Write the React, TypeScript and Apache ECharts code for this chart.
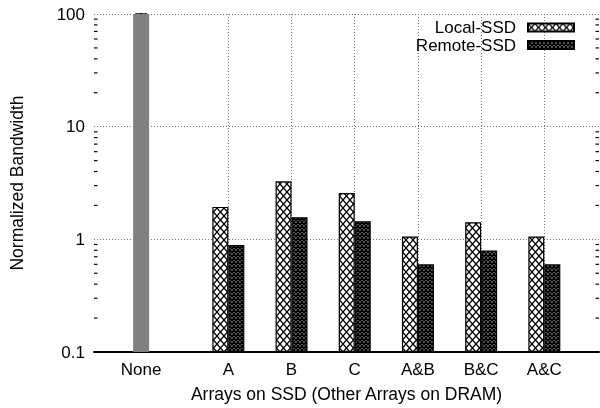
import React, { useEffect, useRef } from 'react';
import * as echarts from 'echarts';

// ---- data ----
const categories = ['None', 'A', 'B', 'C', 'A&B', 'B&C', 'A&C'];
// position of each category on the x value axis (None stands a little apart)
const categoryX = [0, 1.38, 2.38, 3.38, 4.38, 5.38, 6.38];
const baselineDRAM: (number | null)[] = [100, null, null, null, null, null, null];
const localSSD: (number | null)[] = [null, 1.94, 3.27, 2.58, 1.06, 1.42, 1.06];
const remoteSSD: (number | null)[] = [null, 0.89, 1.57, 1.45, 0.6, 0.795, 0.6];
const seriesNames = ['Local-SSD', 'Remote-SSD'];
const yMajorTicks = [0.1, 1, 10, 100];
const yMinorTicks = [
  0.2, 0.3, 0.4, 0.5, 0.6, 0.7, 0.8, 0.9,
  2, 3, 4, 5, 6, 7, 8, 9,
  20, 30, 40, 50, 60, 70, 80, 90,
];

const FONT = '"Liberation Sans", Arial, Helvetica, sans-serif';

function makePattern(w: number, h: number, lw: number) {
  const c = document.createElement('canvas');
  c.width = w;
  c.height = h;
  const ctx = c.getContext('2d')!;
  ctx.fillStyle = '#fff';
  ctx.fillRect(0, 0, w, h);
  ctx.strokeStyle = '#000';
  ctx.lineWidth = lw;
  for (let dx = -1; dx <= 1; dx++) {
    for (let dy = -1; dy <= 1; dy++) {
      const ox = dx * w;
      const oy = dy * h;
      ctx.beginPath();
      ctx.moveTo(ox, oy);
      ctx.lineTo(ox + w, oy + h);
      ctx.moveTo(ox + w, oy);
      ctx.lineTo(ox, oy + h);
      ctx.stroke();
    }
  }
  return { image: c, repeat: 'repeat', imageWidth: w, imageHeight: h } as any;
}

export default function App() {
  const ref = useRef<HTMLDivElement>(null);

  useEffect(() => {
    if (!ref.current) return;
    const chart = echarts.init(ref.current, undefined, { renderer: 'svg' });
    const localPattern = makePattern(7, 8, 1.3);
    const remotePattern = makePattern(4, 4, 1.6);

    const xMin = -0.7457;
    const xMax = 7.245;

    const pairs = (vals: (number | null)[]) =>
      vals
        .map((v, i) => (v == null ? null : [categoryX[i], v]))
        .filter((d) => d !== null) as number[][];

    const labelFor = (v: number) => {
      const i = categoryX.findIndex((x) => Math.abs(x - v) < 1e-6);
      return i >= 0 ? categories[i] : '';
    };

    const legendBase = {
      orient: 'vertical',
      right: 25,
      padding: 0,
      align: 'right',
      itemWidth: 46,
      itemHeight: 8,
      icon: 'rect',
      textStyle: { fontSize: 17, color: '#000', fontFamily: FONT, padding: [0, 7, 0, 0] },
    };

    const option: any = {
      animation: false,
      textStyle: { fontFamily: FONT },
      grid: { left: 90, right: 1, top: 14, bottom: 54, containLabel: false },
      legend: [
        { ...legendBase, data: [seriesNames[0]], top: 19 },
        { ...legendBase, data: [seriesNames[1]], top: 36.5 },
      ],
      xAxis: [
        {
          type: 'value',
          min: xMin,
          max: xMax,
          name: 'Arrays on SSD (Other Arrays on DRAM)',
          nameLocation: 'middle',
          nameGap: 33,
          nameTextStyle: { fontSize: 17.5, color: '#000', fontFamily: FONT },
          axisLine: { show: true, onZero: false, lineStyle: { color: '#000', width: 2 } },
          axisTick: { show: false, customValues: categoryX },
          axisLabel: {
            customValues: categoryX,
            formatter: (v: number) => labelFor(v),
            fontSize: 17,
            color: '#000',
            margin: 9,
            fontFamily: FONT,
          },
          splitLine: { show: true, lineStyle: { color: '#777', type: [1, 2], width: 1 } },
        },
        {
          type: 'value',
          min: xMin,
          max: xMax,
          show: false,
          splitLine: { show: false },
        },
      ],
      yAxis: [
        {
          type: 'log',
          logBase: 10,
          min: 0.1,
          max: 100,
          startValue: 0.1,
          name: 'Normalized Bandwidth',
          nameLocation: 'middle',
          nameRotate: 90,
          nameGap: 68,
          nameTextStyle: { fontSize: 17.5, color: '#000', fontFamily: FONT },
          axisLine: { show: true, lineStyle: { color: '#000', width: 2 } },
          axisTick: { show: true, inside: true, length: 6, lineStyle: { color: '#000', width: 1.5 } },
          axisLabel: {
            fontSize: 17,
            color: '#000',
            margin: 9,
            fontFamily: FONT,
            formatter: (v: number) => {
              const m = yMajorTicks.find((t) => Math.abs(t - v) / t < 1e-6);
              return m == null ? '' : String(m);
            },
          },
          splitLine: { show: true, lineStyle: { color: '#777', type: [1, 2], width: 1 } },
        },
        {
          type: 'log',
          logBase: 10,
          min: 0.1,
          max: 100,
          position: 'right',
          axisLine: { show: false },
          axisTick: { show: true, inside: true, length: 6, lineStyle: { color: '#000', width: 1.5 } },
          axisLabel: { show: false },
          splitLine: { show: false },
        },
      ],
      series: [
        {
          name: 'DRAM',
          type: 'bar',
          xAxisIndex: 1,
          yAxisIndex: 0,
          barWidth: 16,
          data: pairs(baselineDRAM),
          itemStyle: { color: '#808080', borderRadius: [0, 0, 0, 0], borderWidth: 0, borderColor: '#808080' },
          emphasis: { disabled: true },
          silent: true,
        },
        {
          name: seriesNames[0],
          type: 'bar',
          xAxisIndex: 0,
          yAxisIndex: 0,
          barWidth: 16,
          barGap: '0%',
          data: pairs(localSSD),
          itemStyle: { color: localPattern, borderColor: '#000', borderWidth: 1.2, borderRadius: 0 },
        },
        {
          name: seriesNames[1],
          type: 'bar',
          xAxisIndex: 0,
          yAxisIndex: 0,
          barWidth: 16,
          barGap: '0%',
          data: pairs(remoteSSD),
          itemStyle: { color: remotePattern, borderColor: '#000', borderWidth: 1.2, borderRadius: 0 },
        },
        {
          name: 'minorTicks',
          type: 'custom',
          xAxisIndex: 0,
          yAxisIndex: 0,
          silent: true,
          clip: false,
          data: yMinorTicks.map((v) => [0, v]),
          renderItem: (params: any, api: any) => {
            const cs = params.coordSys;
            const y = api.coord([0, api.value(1)])[1];
            return {
              type: 'group',
              children: [
                { type: 'line', shape: { x1: cs.x, y1: y, x2: cs.x + 3.5, y2: y }, style: { stroke: '#000', lineWidth: 1.2 } },
                { type: 'line', shape: { x1: cs.x + cs.width - 3.5, y1: y, x2: cs.x + cs.width, y2: y }, style: { stroke: '#000', lineWidth: 1.2 } },
              ],
            };
          },
        },
      ],
    };

    chart.setOption(option);
    return () => chart.dispose();
  }, []);

  return <div ref={ref} style={{ position: 'fixed', left: 0, top: 0, width: 600, height: 408 }} />;
}
